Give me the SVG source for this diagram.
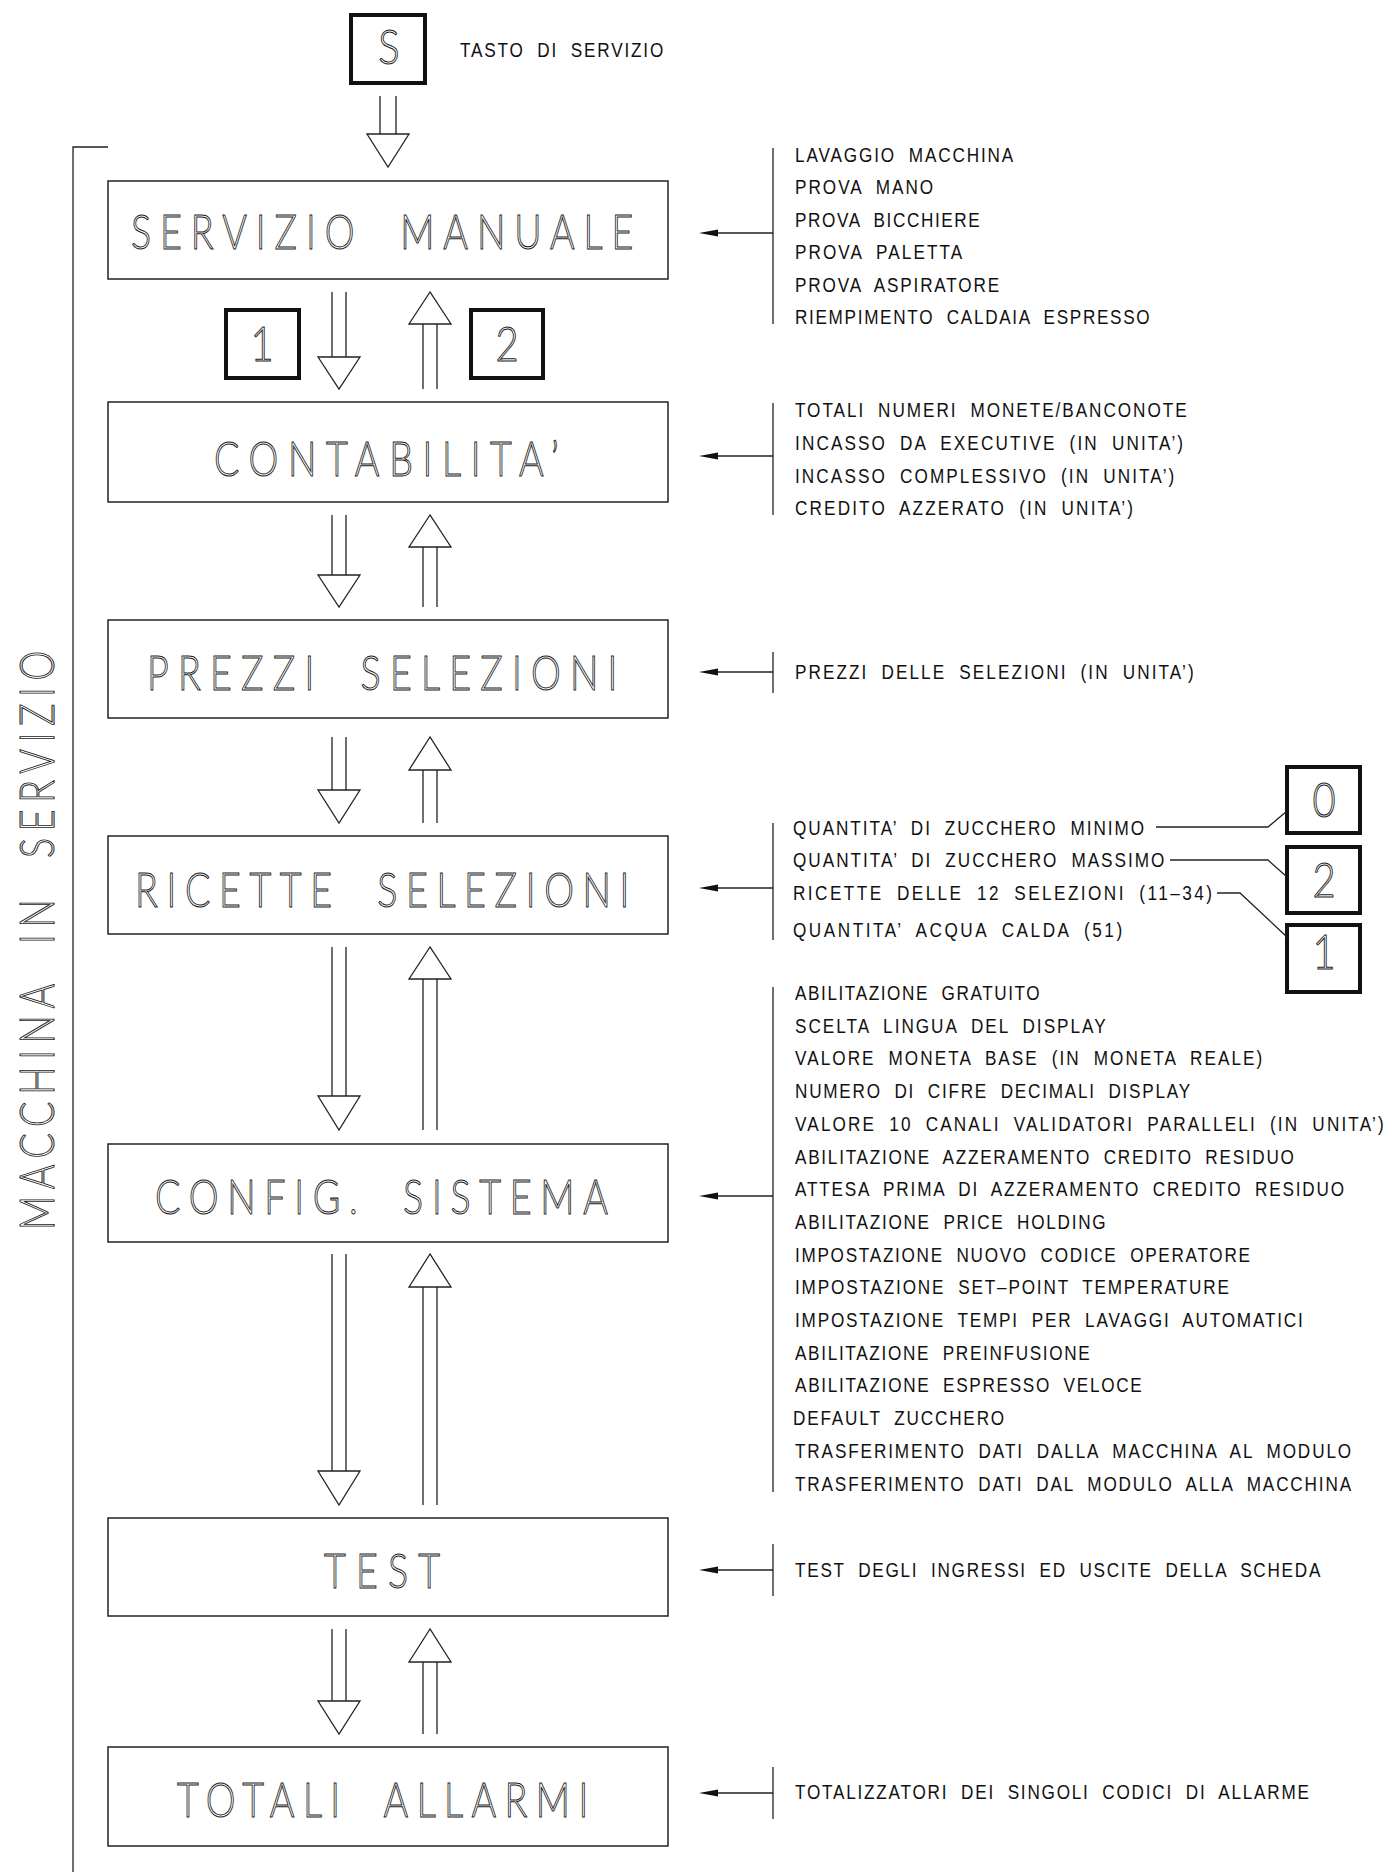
<svg xmlns="http://www.w3.org/2000/svg" width="1389" height="1872" viewBox="0 0 1389 1872">
<style>
.bg{fill:#fff}
.box{fill:#fff;stroke:#222;stroke-width:1.5}
.key{fill:#fff;stroke:#111;stroke-width:4}
.ln{fill:none;stroke:#222;stroke-width:1.3}
.tri{fill:#fff;stroke:#222;stroke-width:1.3}
.ptr{fill:#111;stroke:none}
.big{font-family:Lato,"Liberation Sans",sans-serif;font-weight:300;font-size:47px;fill:#fff;stroke:#1a1a1a;stroke-width:1;word-spacing:22px}
.sm{font-family:"Liberation Sans",Arial,sans-serif;font-size:19.5px;fill:#111;word-spacing:7px}
</style>
<rect class="bg" x="0" y="0" width="1389" height="1872"/>

<g id="frame">
  <path class="ln" d="M108 147 H73 V1872"/>
  <text class="big" font-size="56" transform="translate(54,1230) rotate(-90) scale(0.8,1)" x="0" y="0" textLength="724" lengthAdjust="spacing">MACCHINA IN SERVIZIO</text>
</g>

<g id="key-S">
  <rect class="key" x="351" y="15" width="74" height="68"/>
  <text class="big" transform="translate(389,64) scale(0.85,1)" font-size="44" text-anchor="middle">S</text>
  <text class="sm" transform="translate(460,57) scale(0.88,1)" textLength="231" lengthAdjust="spacing">TASTO DI SERVIZIO</text>
</g>

<g id="node-servizio-manuale">
  <rect class="box" x="108" y="181" width="560" height="98"/>
  <text class="big" transform="translate(131,249) scale(0.8,1)" textLength="628" lengthAdjust="spacing">SERVIZIO MANUALE</text>
</g>
<g id="node-contabilita">
  <rect class="box" x="108" y="402" width="560" height="100"/>
  <text class="big" transform="translate(214,476) scale(0.8,1)" textLength="431" lengthAdjust="spacing">CONTABILITA’</text>
</g>
<g id="node-prezzi">
  <rect class="box" x="108" y="620" width="560" height="98"/>
  <text class="big" transform="translate(147,690) scale(0.8,1)" textLength="588" lengthAdjust="spacing">PREZZI SELEZIONI</text>
</g>
<g id="node-ricette">
  <rect class="box" x="108" y="836" width="560" height="98"/>
  <text class="big" transform="translate(135,907) scale(0.8,1)" textLength="618" lengthAdjust="spacing">RICETTE SELEZIONI</text>
</g>
<g id="node-config">
  <rect class="box" x="108" y="1144" width="560" height="98"/>
  <text class="big" transform="translate(155,1214) scale(0.8,1)" textLength="566" lengthAdjust="spacing">CONFIG. SISTEMA</text>
</g>
<g id="node-test">
  <rect class="box" x="108" y="1518" width="560" height="98"/>
  <text class="big" transform="translate(324,1588) scale(0.8,1)" textLength="145" lengthAdjust="spacing">TEST</text>
</g>
<g id="node-totali">
  <rect class="box" x="108" y="1747" width="560" height="99"/>
  <text class="big" transform="translate(177,1817) scale(0.8,1)" textLength="514" lengthAdjust="spacing">TOTALI ALLARMI</text>
</g>

<g id="key-1">
  <rect class="key" x="226" y="310" width="73" height="68"/>
  <text class="big" transform="translate(262,361) scale(0.85,1)" font-size="44" text-anchor="middle">1</text>
</g>
<g id="key-2">
  <rect class="key" x="471" y="310" width="72" height="68"/>
  <text class="big" transform="translate(507,361) scale(0.85,1)" font-size="44" text-anchor="middle">2</text>
</g>
<g id="key-0r">
  <rect class="key" x="1287" y="767" width="73" height="66"/>
  <text class="big" transform="translate(1324,817) scale(0.85,1)" font-size="44" text-anchor="middle">0</text>
</g>
<g id="key-2r">
  <rect class="key" x="1287" y="847" width="73" height="66"/>
  <text class="big" transform="translate(1324,897) scale(0.85,1)" font-size="44" text-anchor="middle">2</text>
</g>
<g id="key-1r">
  <rect class="key" x="1287" y="925" width="73" height="67"/>
  <text class="big" transform="translate(1324,969) scale(0.85,1)" font-size="44" text-anchor="middle">1</text>
</g>

<g id="list-servizio-manuale" class="sm">
  <text transform="translate(795,161.5) scale(0.88,1)" textLength="248" lengthAdjust="spacing">LAVAGGIO MACCHINA</text>
  <text transform="translate(795,194) scale(0.88,1)" textLength="157" lengthAdjust="spacing">PROVA MANO</text>
  <text transform="translate(795,226.5) scale(0.88,1)" textLength="210" lengthAdjust="spacing">PROVA BICCHIERE</text>
  <text transform="translate(795,259) scale(0.88,1)" textLength="190" lengthAdjust="spacing">PROVA PALETTA</text>
  <text transform="translate(795,291.5) scale(0.88,1)" textLength="232" lengthAdjust="spacing">PROVA ASPIRATORE</text>
  <text transform="translate(795,324) scale(0.88,1)" textLength="403" lengthAdjust="spacing">RIEMPIMENTO CALDAIA ESPRESSO</text>
</g>
<g id="list-contabilita" class="sm">
  <text transform="translate(795,417) scale(0.88,1)" textLength="445" lengthAdjust="spacing">TOTALI NUMERI MONETE/BANCONOTE</text>
  <text transform="translate(795,450) scale(0.88,1)" textLength="441" lengthAdjust="spacing">INCASSO DA EXECUTIVE (IN UNITA’)</text>
  <text transform="translate(795,483) scale(0.88,1)" textLength="431" lengthAdjust="spacing">INCASSO COMPLESSIVO (IN UNITA’)</text>
  <text transform="translate(795,515) scale(0.88,1)" textLength="384" lengthAdjust="spacing">CREDITO AZZERATO (IN UNITA’)</text>
</g>
<g id="list-prezzi" class="sm">
  <text transform="translate(795,679) scale(0.88,1)" textLength="453" lengthAdjust="spacing">PREZZI DELLE SELEZIONI (IN UNITA’)</text>
</g>
<g id="list-ricette" class="sm">
  <text transform="translate(793,834.5) scale(0.88,1)" textLength="399" lengthAdjust="spacing">QUANTITA’ DI ZUCCHERO MINIMO</text>
  <text transform="translate(793,866.5) scale(0.88,1)" textLength="422" lengthAdjust="spacing">QUANTITA’ DI ZUCCHERO MASSIMO</text>
  <text transform="translate(793,899.5) scale(0.88,1)" textLength="476" lengthAdjust="spacing">RICETTE DELLE 12 SELEZIONI (11–34)</text>
  <text transform="translate(793,937) scale(0.88,1)" textLength="374" lengthAdjust="spacing">QUANTITA’ ACQUA CALDA (51)</text>
</g>
<g id="list-config" class="sm">
  <text transform="translate(795,1000) scale(0.88,1)" textLength="278" lengthAdjust="spacing">ABILITAZIONE GRATUITO</text>
  <text transform="translate(795,1032.7) scale(0.88,1)" textLength="353" lengthAdjust="spacing">SCELTA LINGUA DEL DISPLAY</text>
  <text transform="translate(795,1065.4) scale(0.88,1)" textLength="531" lengthAdjust="spacing">VALORE MONETA BASE (IN MONETA REALE)</text>
  <text transform="translate(795,1098.1) scale(0.88,1)" textLength="449" lengthAdjust="spacing">NUMERO DI CIFRE DECIMALI DISPLAY</text>
  <text transform="translate(795,1130.8) scale(0.88,1)" textLength="669" lengthAdjust="spacing">VALORE 10 CANALI VALIDATORI PARALLELI (IN UNITA’)</text>
  <text transform="translate(795,1163.5) scale(0.88,1)" textLength="567" lengthAdjust="spacing">ABILITAZIONE AZZERAMENTO CREDITO RESIDUO</text>
  <text transform="translate(795,1196.2) scale(0.88,1)" textLength="624" lengthAdjust="spacing">ATTESA PRIMA DI AZZERAMENTO CREDITO RESIDUO</text>
  <text transform="translate(795,1228.9) scale(0.88,1)" textLength="353" lengthAdjust="spacing">ABILITAZIONE PRICE HOLDING</text>
  <text transform="translate(795,1261.6) scale(0.88,1)" textLength="517" lengthAdjust="spacing">IMPOSTAZIONE NUOVO CODICE OPERATORE</text>
  <text transform="translate(795,1294.3) scale(0.88,1)" textLength="493" lengthAdjust="spacing">IMPOSTAZIONE SET–POINT TEMPERATURE</text>
  <text transform="translate(795,1327) scale(0.88,1)" textLength="577" lengthAdjust="spacing">IMPOSTAZIONE TEMPI PER LAVAGGI AUTOMATICI</text>
  <text transform="translate(795,1359.7) scale(0.88,1)" textLength="335" lengthAdjust="spacing">ABILITAZIONE PREINFUSIONE</text>
  <text transform="translate(795,1392.4) scale(0.88,1)" textLength="394" lengthAdjust="spacing">ABILITAZIONE ESPRESSO VELOCE</text>
  <text transform="translate(793,1425.1) scale(0.88,1)" textLength="240" lengthAdjust="spacing">DEFAULT ZUCCHERO</text>
  <text transform="translate(795,1457.8) scale(0.88,1)" textLength="632" lengthAdjust="spacing">TRASFERIMENTO DATI DALLA MACCHINA AL MODULO</text>
  <text transform="translate(795,1490.5) scale(0.88,1)" textLength="632" lengthAdjust="spacing">TRASFERIMENTO DATI DAL MODULO ALLA MACCHINA</text>
</g>
<g id="list-test" class="sm">
  <text transform="translate(795,1577) scale(0.88,1)" textLength="597" lengthAdjust="spacing">TEST DEGLI INGRESSI ED USCITE DELLA SCHEDA</text>
</g>
<g id="list-totali" class="sm">
  <text transform="translate(795,1799) scale(0.88,1)" textLength="584" lengthAdjust="spacing">TOTALIZZATORI DEI SINGOLI CODICI DI ALLARME</text>
</g>

<g id="connectors">
  <path class="ln" d="M380 96 V134 M396 96 V134"/>
  <polygon class="tri" points="367,134 409,134 388,167"/>
  <path class="ln" d="M332 292 V357 M346 292 V357"/>
  <polygon class="tri" points="318,357 360,357 339,389"/>
  <path class="ln" d="M332 515 V575 M346 515 V575"/>
  <polygon class="tri" points="318,575 360,575 339,607"/>
  <path class="ln" d="M332 737 V790 M346 737 V790"/>
  <polygon class="tri" points="318,790 360,790 339,823"/>
  <path class="ln" d="M332 947 V1096 M346 947 V1096"/>
  <polygon class="tri" points="318,1096 360,1096 339,1130"/>
  <path class="ln" d="M332 1254 V1471 M346 1254 V1471"/>
  <polygon class="tri" points="318,1471 360,1471 339,1505"/>
  <path class="ln" d="M332 1629 V1701 M346 1629 V1701"/>
  <polygon class="tri" points="318,1701 360,1701 339,1734"/>
  <polygon class="tri" points="430,292 409,324 451,324"/>
  <path class="ln" d="M423 324 V389 M437 324 V389"/>
  <polygon class="tri" points="430,515 409,547 451,547"/>
  <path class="ln" d="M423 547 V607 M437 547 V607"/>
  <polygon class="tri" points="430,737 409,770 451,770"/>
  <path class="ln" d="M423 770 V823 M437 770 V823"/>
  <polygon class="tri" points="430,947 409,979 451,979"/>
  <path class="ln" d="M423 979 V1130 M437 979 V1130"/>
  <polygon class="tri" points="430,1254 409,1287 451,1287"/>
  <path class="ln" d="M423 1287 V1505 M437 1287 V1505"/>
  <polygon class="tri" points="430,1629 409,1662 451,1662"/>
  <path class="ln" d="M423 1662 V1734 M437 1662 V1734"/>
  <path class="ln" d="M773 148 V324 M773 233 H712"/>
  <polygon class="ptr" points="699,233 718,229.5 718,236.5"/>
  <path class="ln" d="M773 403 V515 M773 456 H712"/>
  <polygon class="ptr" points="699,456 718,452.5 718,459.5"/>
  <path class="ln" d="M773 652 V693 M773 672 H712"/>
  <polygon class="ptr" points="699,672 718,668.5 718,675.5"/>
  <path class="ln" d="M773 823 V940 M773 888 H712"/>
  <polygon class="ptr" points="699,888 718,884.5 718,891.5"/>
  <path class="ln" d="M773 987 V1492 M773 1196 H712"/>
  <polygon class="ptr" points="699,1196 718,1192.5 718,1199.5"/>
  <path class="ln" d="M773 1544 V1596 M773 1570 H712"/>
  <polygon class="ptr" points="699,1570 718,1566.5 718,1573.5"/>
  <path class="ln" d="M773 1767 V1819 M773 1793 H712"/>
  <polygon class="ptr" points="699,1793 718,1789.5 718,1796.5"/>
  <path class="ln" d="M1156 827 H1268 L1287 811"/>
  <path class="ln" d="M1170 860 H1268 L1287 877"/>
  <path class="ln" d="M1217 893 H1240 L1287 937"/>
</g>
</svg>
